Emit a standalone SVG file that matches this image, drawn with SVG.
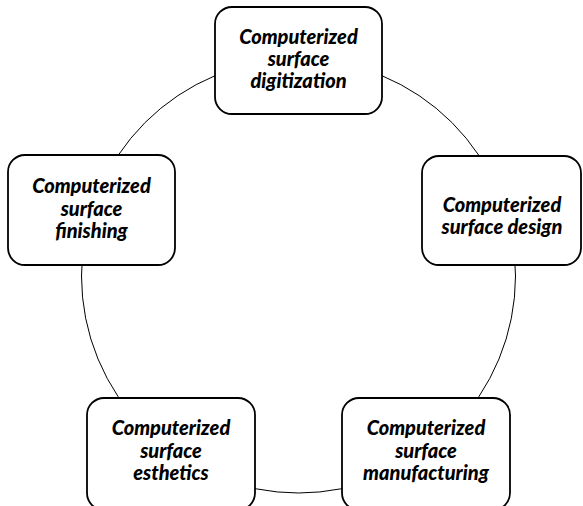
<svg xmlns="http://www.w3.org/2000/svg" width="583" height="506" viewBox="0 0 583 506">
<style>
.box{fill:#fff;stroke:#000;stroke-width:1.8}
.ring{fill:none;stroke:#000;stroke-width:1}
text{font-family:Lato,"Open Sans","Liberation Sans",sans-serif;font-weight:900;font-style:italic;font-size:20px;fill:#000;text-anchor:middle}
</style>
<rect width="583" height="506" fill="#fff"/>
<g id="connectors">
<circle class="ring" cx="298.5" cy="276" r="217"/>
</g>
<g id="node-digitization">
<rect class="box" x="215" y="7" width="167" height="107" rx="17"/>
<text x="298.5" y="44">Computerized</text>
<text x="298.5" y="66">surface</text>
<text x="298.5" y="88">digitization</text>
</g>
<g id="node-design">
<rect class="box" x="422" y="156" width="159" height="109" rx="17"/>
<text x="502" y="212">Computerized</text>
<text x="502" y="234">surface design</text>
</g>
<g id="node-manufacturing">
<rect class="box" x="342" y="398" width="168" height="112" rx="17"/>
<text x="426" y="435">Computerized</text>
<text x="426" y="458">surface</text>
<text x="426" y="480">manufacturing</text>
</g>
<g id="node-esthetics">
<rect class="box" x="87" y="398" width="168" height="112" rx="17"/>
<text x="171" y="435">Computerized</text>
<text x="171" y="458">surface</text>
<text x="171" y="480">esthetics</text>
</g>
<g id="node-finishing">
<rect class="box" x="8" y="155" width="167" height="110" rx="17"/>
<text x="91.5" y="193">Computerized</text>
<text x="91.5" y="216">surface</text>
<text x="91.5" y="238">finishing</text>
</g>
</svg>
